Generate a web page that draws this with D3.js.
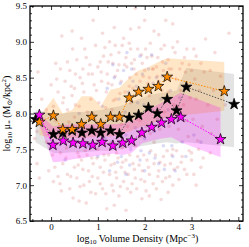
<!DOCTYPE html>
<html><head><meta charset="utf-8">
<script src="https://cdn.jsdelivr.net/npm/d3@7"></script>
<style>body{margin:0;background:#fff}svg{display:block}text{font-family:"Liberation Serif","DejaVu Serif",serif;fill:#000}</style>
</head><body><svg id="c" width="249" height="247"></svg>
<script>
// ---- data ----
const xTicks = [0,1,2,3,4];
const yTicks = [6.5,7.0,7.5,8.0,8.5,9.0,9.5];

const orangeX = [-0.25,0.05,0.25,0.45,0.65,0.87,1.06,1.27,1.46,1.67,1.87,2.08,2.29,2.48,3.70];
const orangeY = [7.88,7.97,7.78,7.78,7.85,7.95,7.85,7.95,7.95,8.22,8.30,8.34,8.38,8.51,8.31];
const orangeHi = [7.95,8.22,8.00,8.05,8.24,8.24,8.10,8.33,8.36,8.50,8.60,8.65,8.72,8.77,8.72];
const orangeLo = [7.70,7.65,7.65,7.66,7.66,7.67,7.68,7.68,7.70,7.75,7.80,7.85,7.90,7.95,8.04];

const blackX = [-0.33,0.05,0.25,0.45,0.66,0.87,1.06,1.27,1.46,1.67,1.87,2.08,2.27,2.48,2.68,2.89,3.91];
const blackY = [7.92,7.71,7.73,7.76,7.73,7.76,7.73,7.76,7.71,7.94,7.98,8.08,8.00,8.20,8.04,8.37,8.13];
const blackHi = [8.05,8.00,8.00,8.02,8.02,8.04,8.05,8.08,8.10,8.15,8.20,8.25,8.28,8.30,8.32,8.64,8.55];
const blackLo = [7.60,7.45,7.45,7.46,7.46,7.47,7.48,7.48,7.50,7.52,7.54,7.56,7.58,7.60,7.58,7.60,7.53];

const magX = [-0.25,0.04,0.26,0.47,0.68,0.89,1.09,1.32,1.53,1.72,1.94,2.15,2.36,2.57,2.77,3.62];
const magY = [7.98,7.56,7.62,7.59,7.58,7.56,7.60,7.55,7.59,7.62,7.73,7.81,7.87,7.92,7.95,7.64];
const magHi = [8.00,7.82,7.84,7.85,7.85,7.85,7.85,7.85,7.86,7.90,8.00,8.08,8.15,8.22,8.29,8.08];
const magLo = [7.85,7.32,7.33,7.36,7.38,7.40,7.42,7.44,7.42,7.45,7.58,7.62,7.65,7.67,7.60,7.39];

const redPts = [
[-0.28,8.58],[-0.2,8.2],[-0.1,8.05],[0.0,8.4],[0.05,8.1],[0.1,8.7],[0.15,8.3],[0.23,9.08],[0.25,8.15],[0.3,8.45],[0.35,8.05],[0.4,8.6],[0.45,8.25],[0.5,8.35],[0.55,8.75],[0.6,8.1],[0.62,8.5],[0.7,8.3],[0.72,8.9],[0.8,8.55],[0.85,8.2],[0.9,9.3],[0.92,8.4],[1.0,8.65],[1.02,8.15],[1.08,8.45],[1.12,8.8],[1.18,8.3],[1.2,8.55],[1.25,9.0],[1.3,8.4],[1.32,8.7],[1.38,8.2],[1.42,8.6],[1.45,8.85],[1.5,8.45],[1.55,9.05],[1.58,8.3],[1.62,8.65],[1.68,8.5],[1.7,8.9],[1.75,8.35],[1.78,8.75],[1.82,8.55],[1.88,9.2],[1.9,8.45],[1.95,8.7],[2.0,8.6],[2.02,8.9],[2.1,8.5],[2.15,8.8],[2.2,9.15],[2.25,8.65],[2.3,8.45],[2.35,8.9],[2.4,8.6],[2.45,9.3],[2.5,8.75],[2.55,8.5],[2.65,8.85],[2.7,9.0],[2.8,8.7],[2.9,8.9],[3.0,8.6],[3.1,8.8],[3.3,9.04],[3.5,8.85],[3.8,9.12],[1.8,9.47],[1.35,9.2],[0.65,9.05],[2.6,9.25],
[-0.3,7.75],[-0.1,7.6],[0.1,7.9],[0.3,7.7],[0.5,7.95],[0.7,7.65],[0.9,8.0],[1.1,7.75],[1.3,8.05],[1.5,7.85],[1.7,8.15],[1.9,7.9],[2.1,8.25],[2.3,8.0],[2.5,8.3],[2.7,8.1],[2.9,7.9],[3.1,8.2],[0.2,7.45],[0.6,7.4],[1.0,7.5],[1.4,7.45],[1.8,7.55],[2.2,7.6],[2.6,7.5],[3.0,7.45],
[-0.35,7.65],[-0.3,7.3],[-0.25,7.1],[-0.05,7.2],[0.05,7.05],[0.19,7.02],[0.25,7.3],[0.35,7.15],[0.4,6.95],[0.5,7.25],[0.55,7.1],[0.65,7.35],[0.7,7.0],[0.8,7.2],[0.85,6.9],[0.9,7.3],[1.0,7.1],[1.05,7.25],[1.1,6.95],[1.15,7.35],[1.19,6.67],[1.25,7.15],[1.3,7.0],[1.35,7.3],[1.4,7.1],[1.45,6.85],[1.5,7.25],[1.55,7.05],[1.6,7.35],[1.65,7.15],[1.7,6.9],[1.75,7.3],[1.8,7.1],[1.85,7.4],[1.94,6.81],[1.95,7.2],[2.0,7.05],[2.05,7.35],[2.1,7.15],[2.2,7.3],[2.25,6.95],[2.3,7.2],[2.4,7.4],[2.45,7.1],[2.55,7.3],[2.6,7.0],[2.7,7.25],[2.8,7.4],[2.9,7.15],[3.0,7.35],[3.2,7.25],[3.4,7.45],[3.1,7.0],[0.75,6.75],[1.6,6.65],[2.35,6.8],
[0.03,7.42],[0.12,7.58],[0.18,7.83],[0.27,8.22],[0.33,7.52],[0.38,7.88],[0.43,8.38],[0.48,7.62],[0.52,8.12],[0.58,7.28],[0.63,7.72],[0.67,8.42],[0.73,7.48],[0.78,8.02],[0.83,8.68],[0.87,7.38],[0.93,7.92],[0.97,8.32],[1.03,7.62],[1.07,8.58],[1.13,7.42],[1.17,8.08],[1.22,8.72],[1.27,7.58],[1.33,8.18],[1.37,8.52],[1.43,7.68],[1.47,8.28],[1.52,7.52],[1.57,8.68],[1.63,7.82],[1.67,8.38],[1.72,7.62],[1.77,8.62],[1.83,7.92],[1.87,8.32],[1.92,7.68],[1.97,8.52],[2.03,7.82],[2.07,8.42],[2.12,7.72],[2.17,8.62],[2.22,8.02],[2.27,8.52],[2.32,7.78],[2.37,8.32],[2.42,8.02],[2.47,8.48],[2.52,7.82],[2.57,8.62],[2.62,8.12],[2.67,8.48],[2.72,7.78],[2.77,8.32],[2.83,8.12],[2.87,8.58],[2.93,7.68],[2.97,8.22],[3.03,7.92],[3.07,8.48],[3.13,7.62],[3.17,8.32],[3.23,7.82],[3.27,8.58],[3.35,8.12],[3.42,7.72],[3.47,8.32],[3.55,7.92],[3.62,8.52],[3.72,8.12],
[0.22,6.92],[0.32,7.38],[0.42,7.12],[0.47,6.82],[0.57,7.45],[0.62,6.98],[0.68,7.22],[0.77,7.42],[0.82,7.05],[0.88,7.12],[0.95,6.88],[0.98,7.38],[1.05,7.02],[1.12,7.18],[1.17,6.88],[1.23,7.42],[1.28,7.28],[1.33,6.92],[1.38,7.18],[1.43,7.38],[1.48,6.98],[1.53,7.32],[1.58,7.18],[1.63,6.95],[1.68,7.42],[1.73,7.02],[1.78,7.22],[1.83,6.95],[1.88,7.28],[1.92,7.08],[1.98,7.42],[2.03,6.92],[2.08,7.25],[2.13,7.48],[2.18,7.02],[2.23,7.42],[2.28,7.12],[2.33,7.32],[2.38,7.05],[2.43,7.28],[2.48,7.48],[2.53,7.12],[2.58,7.42],[2.63,7.22],[2.68,7.48],[2.73,7.08],[2.78,7.32],[2.85,7.22],[2.95,7.48],[3.05,7.15],[3.15,7.5],[3.25,7.38],[0.08,7.25],[0.15,7.12],[0.6,6.78],[1.35,6.72],[2.1,6.85],[2.5,6.9],
[0.12,8.48],[0.2,8.62],[0.35,8.72],[0.46,8.9],[0.52,8.55],[0.68,8.62],[0.75,8.78],[0.88,8.55],[0.95,8.95],[1.05,8.72],[1.15,8.92],[1.22,8.42],[1.28,8.82],[1.37,8.95],[1.45,8.68],[1.52,8.95],[1.6,8.78],[1.67,8.98],[1.72,8.7],[1.85,8.9],[1.93,8.82],[2.05,8.78],[2.12,8.98],[2.18,8.62],[2.28,8.78],[2.38,8.72],[2.42,8.95],[2.52,8.62],[2.6,8.92],[2.75,8.62],[2.85,8.78],[2.95,8.68],[3.05,8.9],[3.2,8.7],[3.4,8.6],[1.1,9.12],[1.7,9.18],[2.3,9.1],[0.45,9.15],[2.0,9.3]
];
const bluePts = [
[1.1,8.1],[1.2,8.35],[1.3,7.6],[1.35,8.5],[1.4,7.9],[1.45,8.2],[1.5,7.4],[1.55,8.6],[1.6,7.7],[1.65,8.3],[1.7,7.5],[1.75,8.45],[1.8,7.8],[1.85,8.15],[1.9,7.35],[1.95,8.55],[2.0,7.65],[2.05,8.35],[2.1,7.45],[2.15,8.05],[2.2,7.75],[2.25,8.5],[2.3,7.3],[2.35,8.2],[2.4,7.55],[2.5,8.05],[2.6,7.4],[2.7,7.9],[2.8,7.6],[0.9,7.8],[0.6,8.0],[1.0,7.4],[2.45,8.7],[1.25,7.2],[1.6,7.15],[2.0,7.2],[1.9,8.8],[0.3,7.35],[2.65,7.2],[3.2,7.6],
[1.32,8.68],[1.48,8.42],[1.58,8.02],[1.72,8.62],[1.82,8.38],[1.98,8.12],[2.08,8.62],[2.18,8.42],[2.28,7.92],[2.38,8.52],[2.55,8.32],[2.75,8.22],[1.42,7.32],[1.68,7.28],[1.92,7.48],[2.22,7.38],[2.42,7.22],[2.58,7.55],[0.8,7.55],[1.15,7.65],[2.88,7.4],[3.05,7.7],[1.62,8.85],[2.15,8.82]
];

// ---- chart ----
const L=30,R=243,T=6,B=221;
const svg=d3.select("#c");
const x=d3.scaleLinear().domain([-0.45,4.1]).range([L,R]);
const y=d3.scaleLinear().domain([6.5,9.5]).range([B,T]);

svg.append("defs").append("clipPath").attr("id","clip").append("rect").attr("x",L).attr("y",T).attr("width",R-L).attr("height",B-T);
const g=svg.append("g").attr("clip-path","url(#clip)");

g.selectAll(".rp").data(redPts).join("circle").attr("cx",d=>x(d[0])).attr("cy",d=>y(d[1])).attr("r",1.8).attr("fill","rgba(215,90,90,0.22)");
g.selectAll(".bp").data(bluePts).join("circle").attr("cx",d=>x(d[0])).attr("cy",d=>y(d[1])).attr("r",1.8).attr("fill","rgba(90,90,215,0.22)");

function band(xs,hi,lo,col,op){
  const d=xs.map((v,i)=>[v,hi[i],lo[i]]);
  g.append("path").datum(d).attr("d",d3.area().x(p=>x(p[0])).y0(p=>y(p[2])).y1(p=>y(p[1]))).attr("fill",col).attr("fill-opacity",op);
}
band(blackX,blackHi,blackLo,"#000",0.11);
band(orangeX,orangeHi,orangeLo,"#ff8c00",0.22);
band(magX,magHi,magLo,"#ff00ff",0.22);

function series(xs,ys,col,lineCol){
  const d=xs.map((v,i)=>[v,ys[i]]);
  g.append("path").datum(d).attr("d",d3.line().x(p=>x(p[0])).y(p=>y(p[1]))).attr("fill","none").attr("stroke",lineCol).attr("stroke-width",1).attr("stroke-dasharray","1.5,1.5");
  g.selectAll(null).data(d).join("path").attr("transform",p=>`translate(${x(p[0])},${y(p[1])})`)
   .attr("d",d3.symbol(d3.symbolStar,38)).attr("fill",col).attr("stroke","#000").attr("stroke-width",0.7);
}
series(blackX,blackY,"#000","#555");
series(orangeX,orangeY,"#ff8c00","#ff8c00");
series(magX,magY,"#ff00ff","#ff00ff");

// axes
const xMinor=d3.range(-0.4,4.1,0.2).filter(v=>Math.abs(v-Math.round(v))>0.01);
const yMinor=d3.range(6.6,9.5,0.1).filter(v=>Math.abs(v*2-Math.round(v*2))>0.01);
function ax(gen,scale,ticks,size,lab,transform){
  const a=svg.append("g").attr("transform",transform).call(gen(scale).tickValues(ticks).tickSize(-size).tickPadding(lab?3:0).tickFormat(lab?lab:""));
  a.select(".domain").remove();
  a.selectAll("line").attr("stroke","#000").attr("stroke-width",0.8);
  a.selectAll("text").style("font-size","9px").attr("font-family",null);
  return a;
}
ax(d3.axisBottom,x,xTicks,4,d3.format("d"),`translate(0,${B})`);
ax(d3.axisBottom,x,xMinor,2,null,`translate(0,${B})`);
ax(d3.axisTop,x,xTicks,4,null,`translate(0,${T})`);
ax(d3.axisTop,x,xMinor,2,null,`translate(0,${T})`);
ax(d3.axisLeft,y,yTicks,4,d3.format(".1f"),`translate(${L},0)`);
ax(d3.axisLeft,y,yMinor,2,null,`translate(${L},0)`);
ax(d3.axisRight,y,yTicks,4,null,`translate(${R},0)`);
ax(d3.axisRight,y,yMinor,2,null,`translate(${R},0)`);

svg.append("rect").attr("x",L).attr("y",T).attr("width",R-L).attr("height",B-T).attr("fill","none").attr("stroke","#000").attr("stroke-width",1.3);

// labels
const xl=svg.append("text").attr("x",(L+R)/2+1).attr("y",242).attr("text-anchor","middle").style("font-size","10px");
xl.append("tspan").text("log");
xl.append("tspan").text("10").style("font-size","7px").attr("dy",2);
xl.append("tspan").text(" Volume Density (Mpc").attr("dy",-2);
xl.append("tspan").text("−3").style("font-size","7px").attr("dy",-4);
xl.append("tspan").text(")").attr("dy",4);

const yl=svg.append("text").attr("transform",`translate(10,${(T+B)/2}) rotate(-90)`).attr("text-anchor","middle").style("font-size","10px");
yl.append("tspan").text("log");
yl.append("tspan").text("10").style("font-size","7px").attr("dy",2);
yl.append("tspan").text(" μ").attr("dy",-2);
yl.append("tspan").text("*").style("font-size","7px").attr("dy",2);
yl.append("tspan").text(" (M").attr("dy",-2);
yl.append("tspan").text("⊙").style("font-size","7px").attr("dy",2);
yl.append("tspan").text("/kpc").attr("dy",-2);
yl.append("tspan").text("2").style("font-size","7px").attr("dy",-4);
yl.append("tspan").text(")").attr("dy",4);
</script></body></html>
